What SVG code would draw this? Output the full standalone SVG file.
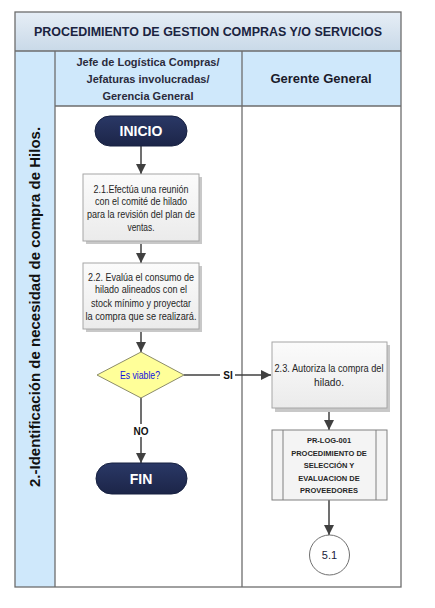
<svg xmlns="http://www.w3.org/2000/svg" width="435" height="608" viewBox="0 0 435 608">
<defs>
<linearGradient id="gTitle" x1="0" y1="0" x2="0" y2="1"><stop offset="0" stop-color="#e6eef6"/><stop offset="1" stop-color="#c9d9e8"/></linearGradient>
<linearGradient id="gBox" x1="0" y1="0" x2="0" y2="1"><stop offset="0" stop-color="#fbfbfb"/><stop offset="1" stop-color="#ebebeb"/></linearGradient>
<linearGradient id="gTerm" x1="0" y1="0" x2="0" y2="1"><stop offset="0" stop-color="#2a3866"/><stop offset="1" stop-color="#1c2548"/></linearGradient>
<marker id="arr" viewBox="0 0 10 10" refX="10" refY="5" markerWidth="10" markerHeight="10" markerUnits="userSpaceOnUse" orient="auto"><path d="M0,0 L10,5 L0,10 z" fill="#404040"/></marker>
</defs>
<style>
.frame{fill:none;stroke:#6d6d6d;stroke-width:1.3}
.hdr{font-family:"Liberation Sans",Arial,sans-serif;font-weight:bold;fill:#1a2340;text-anchor:middle}
.box{fill:url(#gBox);stroke:#a6a6a6;stroke-width:1}
.shadow{fill:#c8c8c8}
.t{font-family:"Liberation Sans",Arial,sans-serif;font-size:10px;fill:#262626;text-anchor:middle}
.term{fill:url(#gTerm);stroke:#162040;stroke-width:1}
.tt{font-family:"Liberation Sans",Arial,sans-serif;font-size:14px;font-weight:bold;fill:#ffffff;text-anchor:middle}
.c{stroke:#404040;stroke-width:1.5;fill:none;marker-end:url(#arr)}
.lbl{font-family:"Liberation Sans",Arial,sans-serif;font-size:10px;font-weight:bold;fill:#111;text-anchor:middle}
</style>
<rect x="0" y="0" width="435" height="608" fill="#ffffff"/>
<g id="pool">
<rect x="15" y="12" width="386" height="39" fill="url(#gTitle)"/>
<rect x="15" y="51" width="40" height="536" fill="#cfe8fb"/>
<rect x="55" y="51" width="346" height="55" fill="#cfe8fb"/>
<rect x="15" y="12" width="386" height="575" class="frame"/>
<line x1="15" y1="51" x2="401" y2="51" class="frame"/>
<line x1="55" y1="51" x2="55" y2="587" class="frame"/>
<line x1="55" y1="106" x2="401" y2="106" class="frame"/>
<line x1="242" y1="51" x2="242" y2="587" class="frame"/>
<text x="208" y="36" class="hdr" font-size="13" textLength="348" lengthAdjust="spacingAndGlyphs">PROCEDIMIENTO DE GESTION COMPRAS Y/O SERVICIOS</text>
<text x="148" y="66" class="hdr" font-size="11" style="fill:#2b2b3b">Jefe de Logística Compras/</text>
<text x="148" y="83" class="hdr" font-size="11" style="fill:#2b2b3b">Jefaturas involucradas/</text>
<text x="148" y="100" class="hdr" font-size="11" style="fill:#2b2b3b">Gerencia General</text>
<text x="321" y="83" class="hdr" font-size="13" style="fill:#1a1a2a">Gerente General</text>
<text transform="translate(40,307) rotate(-90)" x="0" y="0" class="hdr" font-size="15" style="fill:#111">2.-Identificación de necesidad de compra de Hilos.</text>
</g>
<g id="connectors">
<line x1="141" y1="146" x2="141" y2="174" class="c"/>
<line x1="141" y1="241" x2="141" y2="263" class="c"/>
<line x1="141" y1="329" x2="141" y2="352" class="c"/>
<line x1="141" y1="397" x2="141" y2="463" class="c"/>
<line x1="184" y1="375" x2="271" y2="375" class="c"/>
<line x1="329" y1="408" x2="329" y2="430" class="c"/>
<line x1="329" y1="500" x2="329" y2="535" class="c"/>
<rect x="132" y="424" width="18" height="13" fill="#ffffff"/>
<text x="141" y="434.5" class="lbl">NO</text>
<rect x="220" y="368" width="15" height="13" fill="#ffffff"/>
<text x="228" y="378.5" class="lbl">SI</text>
</g>
<g id="inicio">
<rect x="95" y="116" width="92" height="30" rx="15" class="term"/>
<text x="141" y="136" class="tt">INICIO</text>
</g>
<g id="n21">
<rect x="86" y="177" width="116" height="67" class="shadow"/>
<rect x="83" y="174" width="116" height="67" class="box"/>
<text x="141" y="192.5" class="t" textLength="95" lengthAdjust="spacingAndGlyphs">2.1.Efectúa una reunión</text>
<text x="141" y="205" class="t" textLength="92" lengthAdjust="spacingAndGlyphs">con el comité de hilado</text>
<text x="141" y="217.5" class="t" textLength="108" lengthAdjust="spacingAndGlyphs">para la revisión del plan de</text>
<text x="141" y="230.5" class="t" textLength="27" lengthAdjust="spacingAndGlyphs">ventas.</text>
</g>
<g id="n22">
<rect x="86" y="266" width="116" height="66" class="shadow"/>
<rect x="83" y="263" width="116" height="66" class="box"/>
<text x="141" y="280.5" class="t" textLength="106" lengthAdjust="spacingAndGlyphs">2.2. Evalúa el consumo de</text>
<text x="141" y="293" class="t" textLength="92" lengthAdjust="spacingAndGlyphs">hilado alineados con el</text>
<text x="141" y="306.5" class="t" textLength="100" lengthAdjust="spacingAndGlyphs">stock mínimo y proyectar</text>
<text x="141" y="319.5" class="t" textLength="111" lengthAdjust="spacingAndGlyphs">la compra que se realizará.</text>
</g>
<g id="decision">
<polygon points="141,352 184,375 141,398 97,375" fill="#ffff99" stroke="#8c8c6a" stroke-width="1"/>
<text x="140" y="378.5" class="t" style="fill:#1010e0" textLength="40" lengthAdjust="spacingAndGlyphs">Es viable?</text>
</g>
<g id="fin">
<rect x="96" y="463" width="91" height="31" rx="15.5" class="term"/>
<text x="141" y="484" class="tt">FIN</text>
</g>
<g id="n23">
<rect x="275" y="345" width="115" height="67" class="shadow"/>
<rect x="272" y="342" width="115" height="66" class="box"/>
<text x="329" y="372" class="t" textLength="109" lengthAdjust="spacingAndGlyphs">2.3. Autoriza la compra del</text>
<text x="329" y="386" class="t" textLength="30" lengthAdjust="spacingAndGlyphs">hilado.</text>
</g>
<g id="subproc">
<rect x="272" y="430" width="115" height="70" fill="#f4f4f4" stroke="#808080" stroke-width="1"/>
<line x1="283" y1="430" x2="283" y2="500" stroke="#808080" stroke-width="1"/>
<line x1="376" y1="430" x2="376" y2="500" stroke="#808080" stroke-width="1"/>
<g font-family="'Liberation Sans',Arial,sans-serif" font-size="7.5" font-weight="bold" fill="#262626" text-anchor="middle">
<text x="329" y="443">PR-LOG-001</text>
<text x="329" y="455.5">PROCEDIMIENTO DE</text>
<text x="329" y="468">SELECCIÓN Y</text>
<text x="329" y="480.5">EVALUACION DE</text>
<text x="329" y="493">PROVEEDORES</text>
</g>
</g>
<g id="c51">
<circle cx="329.5" cy="555" r="20" fill="#ffffff" stroke="#707070" stroke-width="1"/>
<text x="329.5" y="559" class="t" style="font-size:11px;fill:#1a1a3a">5.1</text>
</g>
</svg>
